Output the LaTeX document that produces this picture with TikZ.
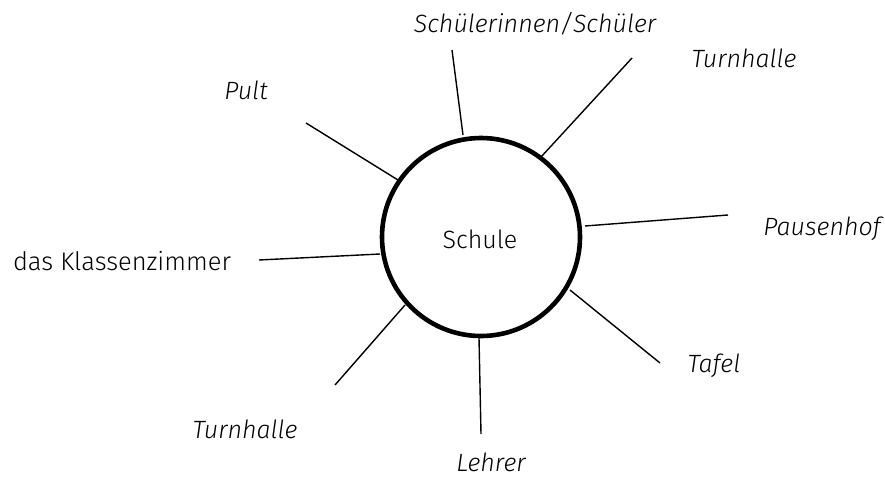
\documentclass[tikz,border=0pt]{standalone}
\usepackage{fontspec}
\setmainfont{Fira Sans}[UprightFont={* Light}, ItalicFont={* Light Italic}]
\begin{document}
\begin{tikzpicture}[x=1pt,y=-1pt,
  lab/.style={font=\fontsize{25}{30}\selectfont\itshape, inner sep=0pt, anchor=base, text depth=0pt},
  upl/.style={font=\fontsize{25.5}{30}\selectfont, inner sep=0pt, anchor=base},
  spoke/.style={line width=1.4pt}]
\useasboundingbox (0,0) rectangle (885,477);
\node[draw, circle, line width=4.6pt, minimum size=198pt, inner sep=0pt] (c) at (481,237) {};
\node[upl, font=\fontsize{25}{30}\selectfont] (schule) at (480,248) {Schule};
% endpoints
\coordinate (a1) at (452,50);   \coordinate (a2) at (463,135);
\coordinate (b1) at (632,58);   \coordinate (b2) at (541,157);
\coordinate (p1) at (306,123);  \coordinate (p2) at (398,180);
\coordinate (h1) at (728,215);  \coordinate (h2) at (585,226);
\coordinate (k1) at (259,260);  \coordinate (k2) at (380,254);
\coordinate (t1) at (660,363);  \coordinate (t2) at (570,290);
\coordinate (u1) at (335,385);  \coordinate (u2) at (405,305);
\coordinate (l1) at (481,434);  \coordinate (l2) at (479,338);
\draw[spoke] (a1) -- (a2);
\draw[spoke] (b1) -- (b2);
\draw[spoke] (p1) -- (p2);
\draw[spoke] (h1) -- (h2);
\draw[spoke] (k1) -- (k2);
\draw[spoke] (t1) -- (t2);
\draw[spoke] (u1) -- (u2);
\draw[spoke] (l1) -- (l2);
% labels
\node[lab] (ls) at (535,32) {Schülerinnen/Schüler};
\node[lab] (lt) at (744,67) {Turnhalle};
\node[lab] (lp) at (246,99) {Pult};
\node[lab] (lh) at (822,235) {Pausenhof};
\node[upl] (lk) at (122,270) {das Klassenzimmer};
\node[lab] (lf) at (714,372) {Tafel};
\node[lab] (lu) at (245,438) {Turnhalle};
\node[lab] (ll) at (491,471) {Lehrer};
\end{tikzpicture}
\end{document}
